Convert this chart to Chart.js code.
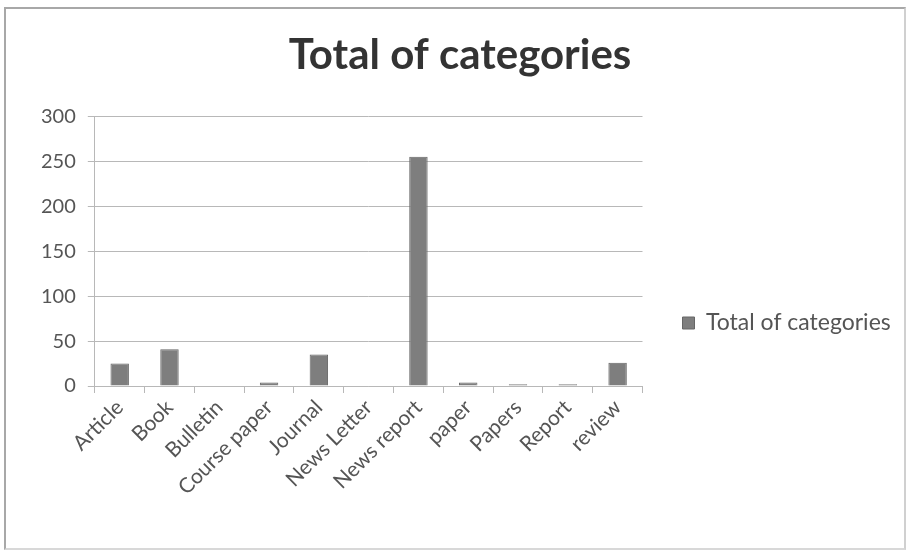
<!DOCTYPE html>
<html lang="en">
<head>
    <meta charset="UTF-8">
    <title>Total of categories</title>
    <script src="https://cdn.jsdelivr.net/npm/chart.js"></script>
    <style>
        html, body { margin: 0; padding: 0; background: #fff; }
        .wrap { position: relative; width: 907px; height: 552px; }
        .frame {
            position: absolute; left: 4px; top: 7px; width: 898px; height: 539px;
            border: 2px solid #a8a8a8; border-right-color: #d0d0d0; border-bottom-color: #d8d8d8;
            pointer-events: none;
        }
    </style>
</head>
<body>
    <div class="wrap">
        <canvas id="categories-chart"></canvas>
        <div class="frame"></div>
    </div>
    <script>
        // Number of records per category
        const categories = ['Article', 'Book', 'Bulletin', 'Course paper', 'Journal', 'News Letter',
                            'News report', 'paper', 'Papers', 'Report', 'review'];
        const totals = [25, 41, 0, 4, 35, 0, 255, 4, 2, 2, 26];
        const yTicks = [0, 50, 100, 150, 200, 250, 300];

        const fontFamily = 'Lato, "Open Sans", sans-serif';

        // move the legend lower/right and the title a bit right of where chart.js puts them
        const boxShift = {
            id: 'boxShift',
            afterUpdate(chart) {
                const lg = chart.legend;
                lg.left += 30;
                lg.right = chart.width;   // legend clips to its box, keep the text inside
                lg.width = lg.right - lg.left;
                lg.top += 72; lg.bottom += 72;
                lg.adjustHitBoxes();
                const tb = chart.titleBlock;
                tb.left += 22; tb.right += 22;
            }
        };

        const ctx = document.getElementById('categories-chart').getContext('2d');
        const chart = new Chart(ctx, {
            type: 'bar',
            data: {
                labels: categories,
                datasets: [{
                    label: 'Total of categories',
                    data: totals,
                    backgroundColor: '#7e7e7e',
                    borderColor: '#666',
                    borderWidth: 1,
                    categoryPercentage: 1,
                    barPercentage: 0.37
                }]
            },
            options: {
                responsive: true,
                maintainAspectRatio: false,
                animation: false,
                layout: { padding: { left: 29, right: 60, top: 0, bottom: 50 } },
                plugins: {
                    title: {
                        display: true,
                        text: 'Total of categories',
                        color: '#333',
                        font: { family: fontFamily, size: 42, weight: 'bold' },
                        padding: { top: 30, bottom: 36 }
                    },
                    legend: {
                        position: 'right',
                        align: 'center',
                        labels: {
                            color: '#555',
                            font: { family: fontFamily, size: 23 },
                            boxWidth: 12,
                            boxHeight: 12,
                            padding: 10
                        }
                    },
                    tooltip: { enabled: false }
                },
                scales: {
                    y: {
                        min: 0,
                        max: 300,
                        afterBuildTicks: axis => { axis.ticks = yTicks.map(v => ({ value: v })); },
                        ticks: {
                            color: '#555',
                            font: { family: fontFamily, size: 20 },
                            padding: 12
                        },
                        grid: { color: '#b8b8b8', tickLength: 7, lineWidth: 1 },
                        border: { color: '#b8b8b8' }
                    },
                    x: {
                        ticks: {
                            color: '#555',
                            font: { family: fontFamily, size: 21 },
                            minRotation: 45,
                            maxRotation: 45,
                            autoSkip: false,
                            padding: 2
                        },
                        grid: { display: true, drawOnChartArea: false, color: '#b8b8b8', tickLength: 7, offset: true },
                        border: { color: '#b8b8b8' }
                    }
                }
            },
            plugins: [boxShift]
        });
    </script>
</body>
</html>
